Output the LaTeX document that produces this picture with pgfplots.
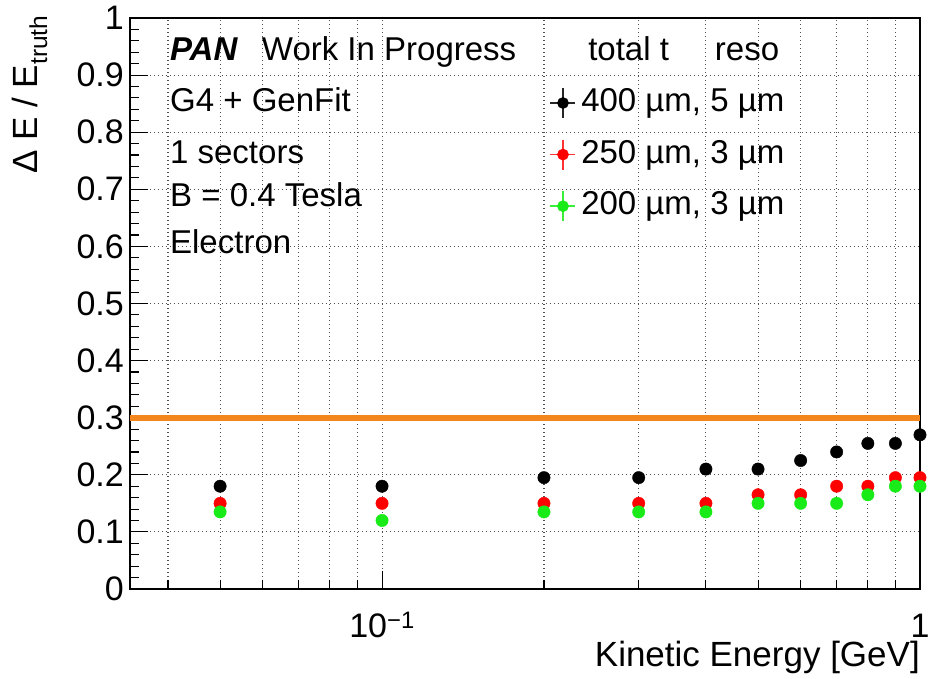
\documentclass[border=0pt]{standalone}
\usepackage{pgfplots}
\pgfplotsset{compat=1.18}
\usepackage{fontspec}
\setmainfont{Liberation Sans}

\definecolor{rootorange}{RGB}{243,134,28}
\definecolor{rootred}{RGB}{255,0,0}
\definecolor{rootgreen}{RGB}{25,235,25}
\definecolor{gridgray}{RGB}{80,80,80}

\newcommand{\txt}{\fontsize{33}{33}\selectfont}
\newcommand{\tck}{\fontsize{34}{34}\selectfont}
\newcommand{\ttl}{\fontsize{35}{35}\selectfont}

% resolution vs kinetic energy, one table per layer configuration
\pgfplotstableread{
E     res
0.05  0.180
0.1   0.180
0.2   0.195
0.3   0.195
0.4   0.210
0.5   0.210
0.6   0.225
0.7   0.240
0.8   0.255
0.9   0.255
1.0   0.270
}\resA
\pgfplotstableread{
E     res
0.05  0.150
0.1   0.150
0.2   0.150
0.3   0.150
0.4   0.150
0.5   0.165
0.6   0.165
0.7   0.180
0.8   0.180
0.9   0.195
1.0   0.195
}\resB
\pgfplotstableread{
E     res
0.05  0.135
0.1   0.120
0.2   0.135
0.3   0.135
0.4   0.135
0.5   0.150
0.6   0.150
0.7   0.150
0.8   0.165
0.9   0.180
1.0   0.180
}\resC

\begin{document}
\begin{tikzpicture}
\useasboundingbox (0pt,0pt) rectangle (930pt,679pt);
\begin{axis}[
  at={(130pt,90pt)}, anchor=south west,
  scale only axis, width=790pt, height=571pt,
  xmode=log, xmin=0.034, xmax=1, ymin=0, ymax=1,
  axis line style={line width=1.3pt},
  xtick={0.1,1}, xticklabels={10\textsuperscript{−1},1},
  minor xtick={0.04,0.05,0.06,0.07,0.08,0.09,0.2,0.3,0.4,0.5,0.6,0.7,0.8,0.9},
  ytick={0,0.1,0.2,0.3,0.4,0.5,0.6,0.7,0.8,0.9,1},
  yticklabels={0,0.1,0.2,0.3,0.4,0.5,0.6,0.7,0.8,0.9,1},
  minor y tick num=4,
  xtick pos=bottom, ytick pos=left,
  tick align=inside,
  major tick length=18pt, minor tick length=9pt,
  tick style={line width=1.1pt, black},
  xmajorgrids=true, xminorgrids=true, ymajorgrids=true,
  major grid style={gridgray, line width=1.1pt, dash pattern=on 1.4pt off 2.6pt},
  minor grid style={gridgray, line width=1.1pt, dash pattern=on 1.4pt off 2.6pt},
  xticklabel style={font=\tck, anchor=base, inner sep=0pt, yshift=-49pt},
  yticklabel style={font=\tck, anchor=east, inner sep=0pt, xshift=-6pt},
  every axis x label/.style={at={(axis description cs:1,-0.1349)}, anchor=base east, font=\ttl, inner sep=0pt},
  every axis y label/.style={at={(axis description cs:-0.1165,1.0053)}, rotate=90, anchor=base east, font=\ttl, inner sep=0pt},
  xlabel={Kinetic Energy [GeV]},
  ylabel={Δ E / E\textsubscript{truth}},
  legend cell align=left,
  legend style={draw=none, fill=none, inner sep=0pt, font=\txt,
    at={(axis description cs:0.5310,0.9685)}, anchor=north west,
    row sep=20pt, column sep=5pt,
    nodes={inner sep=0pt, text height=24pt, text depth=7pt}},
]
% reference level
\addplot[rootorange, line width=6pt, forget plot] coordinates {(0.034,0.3) (1,0.3)};

\addplot[only marks, mark=*, mark size=6.2pt, black, forget plot] table[x=E,y=res] {\resA};
\addplot[only marks, mark=*, mark size=6.2pt, rootred, forget plot] table[x=E,y=res] {\resB};
\addplot[only marks, mark=*, mark size=6.2pt, rootgreen, forget plot] table[x=E,y=res] {\resC};

\addlegendimage{empty legend}
\addlegendentry{\hspace{7pt}total t\hspace{46pt}reso}
\addlegendimage{legend image code/.code={
  \draw[black!85, line width=1.6pt] (0pt,0pt) -- (25pt,0pt) (12.5pt,-15pt) -- (12.5pt,15pt);
  \fill[black] (12.5pt,0pt) circle[radius=5.6pt];}}
\addlegendentry{400 µm, 5 µm}
\addlegendimage{legend image code/.code={
  \draw[rootred!80, line width=1.6pt] (0pt,0pt) -- (25pt,0pt) (12.5pt,-15pt) -- (12.5pt,15pt);
  \fill[rootred] (12.5pt,0pt) circle[radius=5.6pt];}}
\addlegendentry{250 µm, 3 µm}
\addlegendimage{legend image code/.code={
  \draw[rootgreen!85, line width=1.6pt] (0pt,0pt) -- (25pt,0pt) (12.5pt,-15pt) -- (12.5pt,15pt);
  \fill[rootgreen] (12.5pt,0pt) circle[radius=5.6pt];}}
\addlegendentry{200 µm, 3 µm}

% labels of the setup
\node[anchor=base west, font=\txt, inner sep=0pt] at (axis description cs:0.0506,0.9264) {\textbf{\textit{PAN}}\hspace{24pt}Work In Progress};
\node[anchor=base west, font=\txt, inner sep=0pt] at (axis description cs:0.0506,0.8354) {G4 + GenFit};
\node[anchor=base west, font=\txt, inner sep=0pt] at (axis description cs:0.0506,0.7460) {1 sectors};
\node[anchor=base west, font=\txt, inner sep=0pt] at (axis description cs:0.0506,0.6690) {B = 0.4 Tesla};
\node[anchor=base west, font=\txt, inner sep=0pt] at (axis description cs:0.0506,0.5884) {Electron};
\end{axis}
\end{tikzpicture}
\end{document}
